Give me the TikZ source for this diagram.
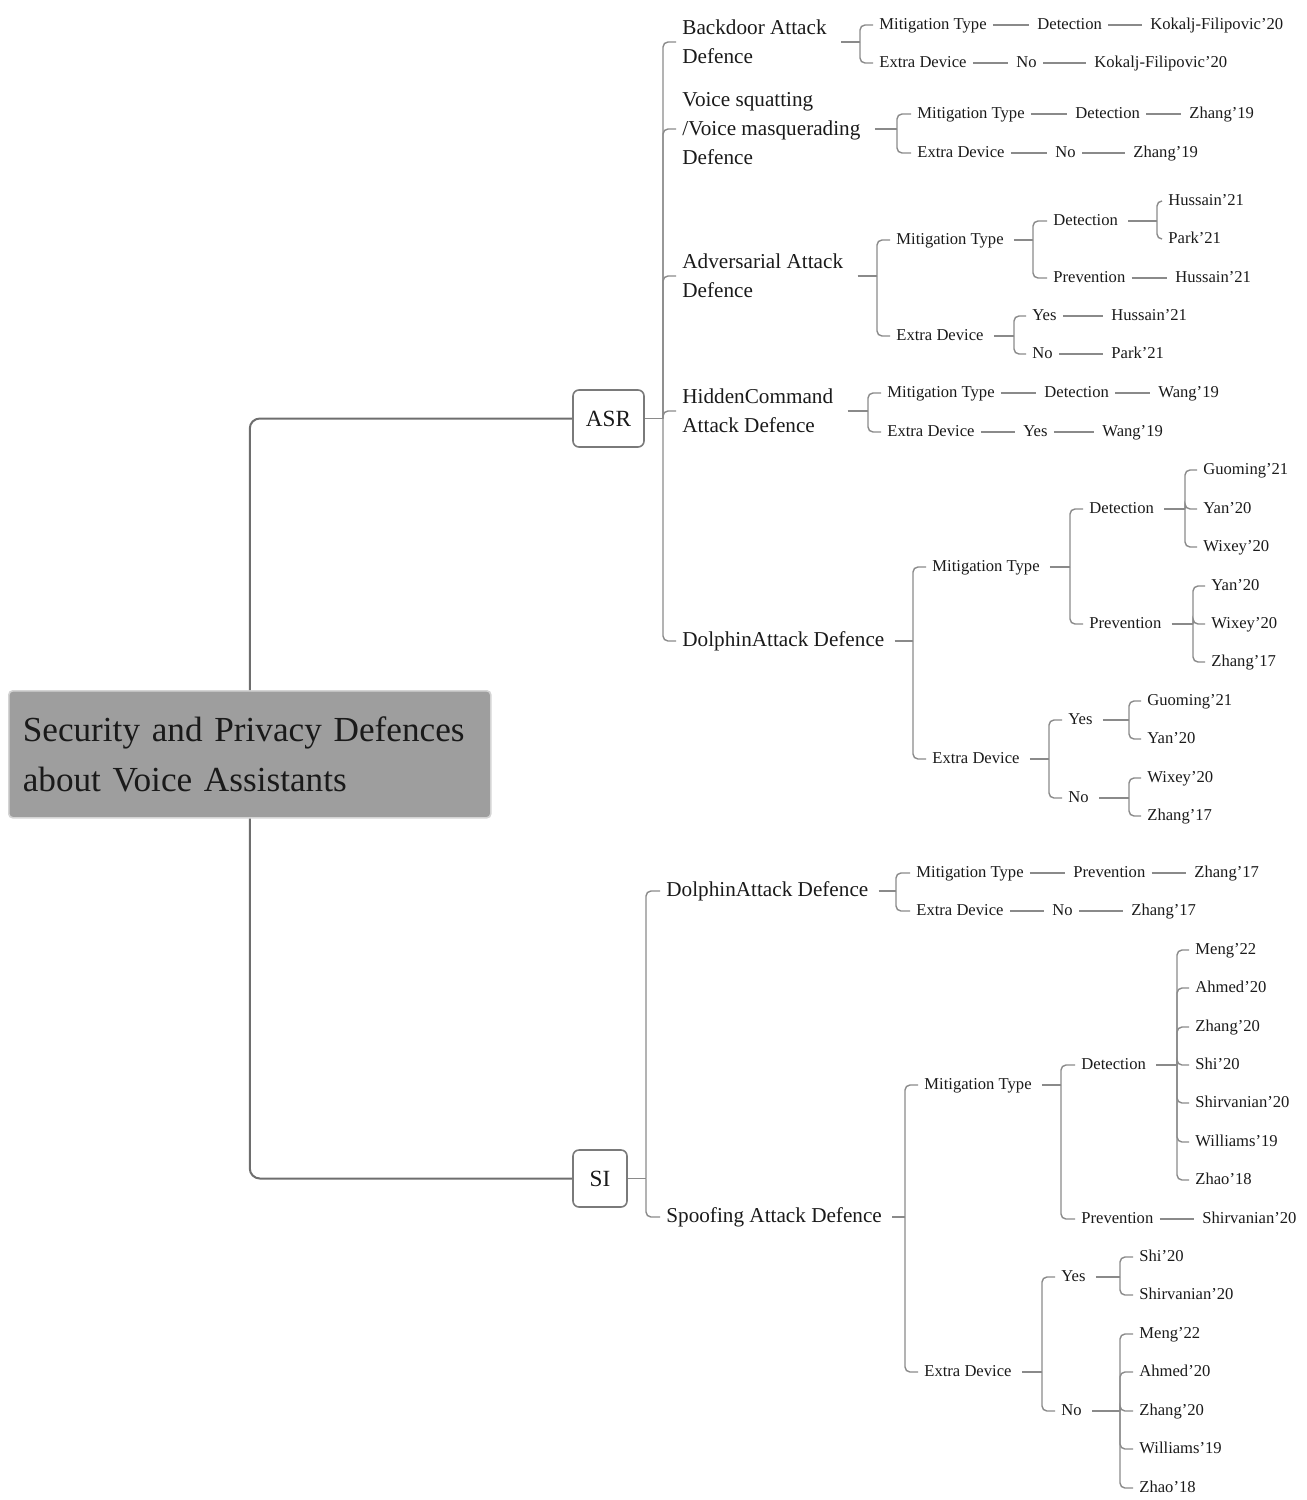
\documentclass[tikz,border=0pt]{standalone}
\usepackage{fontspec}
\setmainfont{Liberation Serif}
\definecolor{linegray}{HTML}{8A8A8A}
\definecolor{trunkgray}{HTML}{6E6E6E}
\definecolor{boxgray}{HTML}{7A7A7A}
\definecolor{rootfill}{HTML}{9E9E9E}
\definecolor{rootborder}{HTML}{D4D4D4}
\definecolor{txt}{HTML}{1A1A1A}
\newcommand\fork[4]{%
  \coordinate (sp) at (#3,0);
  \draw[conn] ([xshift=#2]#1.east) -- (#1.east -| sp);
  \foreach \c in {#4}{\draw[conn] (#1.east -| sp) |- ([xshift=-3pt]\c.west);}
}
\newcommand\chain[2]{\draw[conn] ([xshift=3pt]#1.east) -- ([xshift=-4pt]#2.west);}
\begin{document}
\begin{tikzpicture}[x=0.5pt,y=-0.5pt,
  conn/.style={draw=linegray, line width=0.7pt, rounded corners=2.5pt},
  trunk/.style={draw=trunkgray, line width=1pt, rounded corners=5pt},
  leaf/.style={inner sep=0pt, anchor=west, yshift=-1pt, text=txt, font=\fontsize{8.3}{10}\selectfont, text height=6pt, text depth=1.8pt},
  sub/.style={inner sep=0pt, anchor=west, align=left, text=txt, font=\fontsize{10.6}{14.5}\selectfont},
  catbox/.style={draw=boxgray, line width=0.8pt, fill=white, rounded corners=3pt, inner sep=0pt, text=txt, font=\fontsize{11.6}{14}\selectfont, minimum height=28.5pt},
]
\useasboundingbox (0,0) rectangle (1307,1500);

% root
\node[draw=rootborder, fill=rootfill, rounded corners=2pt, line width=0.8pt,
      anchor=north west, minimum height=63.5pt, text width=227pt, inner xsep=7pt, inner ysep=0pt,
      align=left, text=txt, font=\fontsize{17.6}{25}\selectfont] (root) at (8,690)
      {Security and Privacy Defences\\about Voice Assistants};

\node[catbox, minimum width=35.5pt] (asr) at (608.5,418.5) {ASR};
\node[catbox, minimum width=27pt] (si) at (600,1178.5) {SI};

\draw[trunk] (root.north) |- (asr.west);
\draw[trunk] (root.south) |- (si.west);

% ---------------- ASR ----------------
\node[sub] (a1) at (682,42) {Backdoor Attack\\Defence};
\node[sub] (a2) at (682,129) {Voice squatting\\/Voice masquerading\\Defence};
\node[sub] (a3) at (682,276) {Adversarial Attack\\Defence};
\node[sub] (a4) at (682,411) {HiddenCommand\\Attack Defence};
\node[sub] (a5) at (682,641) {DolphinAttack Defence};

% Backdoor
\node[leaf] (a1m) at (879,23) {Mitigation Type};
\node[leaf] (a1md) at (1037,23) {Detection};
\node[leaf] (a1mdk) at (1150,23) {Kokalj-Filipovic’20};
\node[leaf] (a1e) at (879,61) {Extra Device};
\node[leaf] (a1en) at (1016,61) {No};
\node[leaf] (a1enk) at (1094,61) {Kokalj-Filipovic’20};

% Voice squatting
\node[leaf] (a2m) at (917,112) {Mitigation Type};
\node[leaf] (a2md) at (1075,112) {Detection};
\node[leaf] (a2mdz) at (1189,112) {Zhang’19};
\node[leaf] (a2e) at (917,151) {Extra Device};
\node[leaf] (a2en) at (1055,151) {No};
\node[leaf] (a2enz) at (1133,151) {Zhang’19};

% Adversarial
\node[leaf] (a3m) at (896,238) {Mitigation Type};
\node[leaf] (a3md) at (1053,219) {Detection};
\node[leaf] (a3mdh) at (1168,199) {Hussain’21};
\node[leaf] (a3mdp) at (1168,237) {Park’21};
\node[leaf] (a3mp) at (1053,276) {Prevention};
\node[leaf] (a3mph) at (1175,276) {Hussain’21};
\node[leaf] (a3e) at (896,334) {Extra Device};
\node[leaf] (a3ey) at (1032,314) {Yes};
\node[leaf] (a3eyh) at (1111,314) {Hussain’21};
\node[leaf] (a3en) at (1032,352) {No};
\node[leaf] (a3enp) at (1111,352) {Park’21};

% HiddenCommand
\node[leaf] (a4m) at (887,391) {Mitigation Type};
\node[leaf] (a4md) at (1044,391) {Detection};
\node[leaf] (a4mdw) at (1158,391) {Wang’19};
\node[leaf] (a4e) at (887,430) {Extra Device};
\node[leaf] (a4ey) at (1023,430) {Yes};
\node[leaf] (a4eyw) at (1102,430) {Wang’19};

% DolphinAttack (ASR)
\node[leaf] (a5m) at (932,565) {Mitigation Type};
\node[leaf] (a5md) at (1089,507) {Detection};
\node[leaf] (a5md1) at (1203,468) {Guoming’21};
\node[leaf] (a5md2) at (1203,507) {Yan’20};
\node[leaf] (a5md3) at (1203,545) {Wixey’20};
\node[leaf] (a5mp) at (1089,622) {Prevention};
\node[leaf] (a5mp1) at (1211,584) {Yan’20};
\node[leaf] (a5mp2) at (1211,622) {Wixey’20};
\node[leaf] (a5mp3) at (1211,660) {Zhang’17};
\node[leaf] (a5e) at (932,757) {Extra Device};
\node[leaf] (a5ey) at (1068,718) {Yes};
\node[leaf] (a5ey1) at (1147,699) {Guoming’21};
\node[leaf] (a5ey2) at (1147,737) {Yan’20};
\node[leaf] (a5en) at (1068,796) {No};
\node[leaf] (a5en1) at (1147,776) {Wixey’20};
\node[leaf] (a5en2) at (1147,814) {Zhang’17};

% ---------------- SI ----------------
\node[sub] (s1) at (666,891) {DolphinAttack Defence};
\node[sub] (s2) at (666,1217) {Spoofing Attack Defence};

\node[leaf] (s1m) at (916,871) {Mitigation Type};
\node[leaf] (s1mp) at (1073,871) {Prevention};
\node[leaf] (s1mpz) at (1194,871) {Zhang’17};
\node[leaf] (s1e) at (916,909) {Extra Device};
\node[leaf] (s1en) at (1052,909) {No};
\node[leaf] (s1enz) at (1131,909) {Zhang’17};

\node[leaf] (s2m) at (924,1083) {Mitigation Type};
\node[leaf] (s2md) at (1081,1063) {Detection};
\node[leaf] (s2md1) at (1195,948) {Meng’22};
\node[leaf] (s2md2) at (1195,986) {Ahmed’20};
\node[leaf] (s2md3) at (1195,1025) {Zhang’20};
\node[leaf] (s2md4) at (1195,1063) {Shi’20};
\node[leaf] (s2md5) at (1195,1101) {Shirvanian’20};
\node[leaf] (s2md6) at (1195,1140) {Williams’19};
\node[leaf] (s2md7) at (1195,1178) {Zhao’18};
\node[leaf] (s2mp) at (1081,1217) {Prevention};
\node[leaf] (s2mpx) at (1202,1217) {Shirvanian’20};
\node[leaf] (s2e) at (924,1370) {Extra Device};
\node[leaf] (s2ey) at (1061,1275) {Yes};
\node[leaf] (s2ey1) at (1139,1255) {Shi’20};
\node[leaf] (s2ey2) at (1139,1293) {Shirvanian’20};
\node[leaf] (s2en) at (1061,1409) {No};
\node[leaf] (s2en1) at (1139,1332) {Meng’22};
\node[leaf] (s2en2) at (1139,1370) {Ahmed’20};
\node[leaf] (s2en3) at (1139,1409) {Zhang’20};
\node[leaf] (s2en4) at (1139,1447) {Williams’19};
\node[leaf] (s2en5) at (1139,1486) {Zhao’18};

% ---------------- connectors ----------------
\fork{asr}{0pt}{663}{a1,a2,a3,a4,a5}
\fork{a1}{7pt}{860}{a1m,a1e}
\chain{a1m}{a1md}\chain{a1md}{a1mdk}
\chain{a1e}{a1en}\chain{a1en}{a1enk}
\fork{a2}{7pt}{897}{a2m,a2e}
\chain{a2m}{a2md}\chain{a2md}{a2mdz}
\chain{a2e}{a2en}\chain{a2en}{a2enz}
\fork{a3}{7pt}{877}{a3m,a3e}
\fork{a3m}{5pt}{1033}{a3md,a3mp}
\fork{a3md}{5pt}{1157}{a3mdh,a3mdp}
\chain{a3mp}{a3mph}
\fork{a3e}{5pt}{1014}{a3ey,a3en}
\chain{a3ey}{a3eyh}\chain{a3en}{a3enp}
\fork{a4}{7pt}{868}{a4m,a4e}
\chain{a4m}{a4md}\chain{a4md}{a4mdw}
\chain{a4e}{a4ey}\chain{a4ey}{a4eyw}
\fork{a5}{5pt}{913}{a5m,a5e}
\fork{a5m}{5pt}{1070}{a5md,a5mp}
\fork{a5md}{5pt}{1185}{a5md1,a5md2,a5md3}
\fork{a5mp}{5pt}{1193}{a5mp1,a5mp2,a5mp3}
\fork{a5e}{5pt}{1049}{a5ey,a5en}
\fork{a5ey}{5pt}{1129}{a5ey1,a5ey2}
\fork{a5en}{5pt}{1129}{a5en1,a5en2}

\fork{si}{0pt}{646}{s1,s2}
\fork{s1}{5pt}{896}{s1m,s1e}
\chain{s1m}{s1mp}\chain{s1mp}{s1mpz}
\chain{s1e}{s1en}\chain{s1en}{s1enz}
\fork{s2}{5pt}{905}{s2m,s2e}
\fork{s2m}{5pt}{1061}{s2md,s2mp}
\fork{s2md}{5pt}{1177}{s2md1,s2md2,s2md3,s2md4,s2md5,s2md6,s2md7}
\chain{s2mp}{s2mpx}
\fork{s2e}{5pt}{1042}{s2ey,s2en}
\fork{s2ey}{5pt}{1120}{s2ey1,s2ey2}
\fork{s2en}{5pt}{1120}{s2en1,s2en2,s2en3,s2en4,s2en5}
\end{tikzpicture}
\end{document}
